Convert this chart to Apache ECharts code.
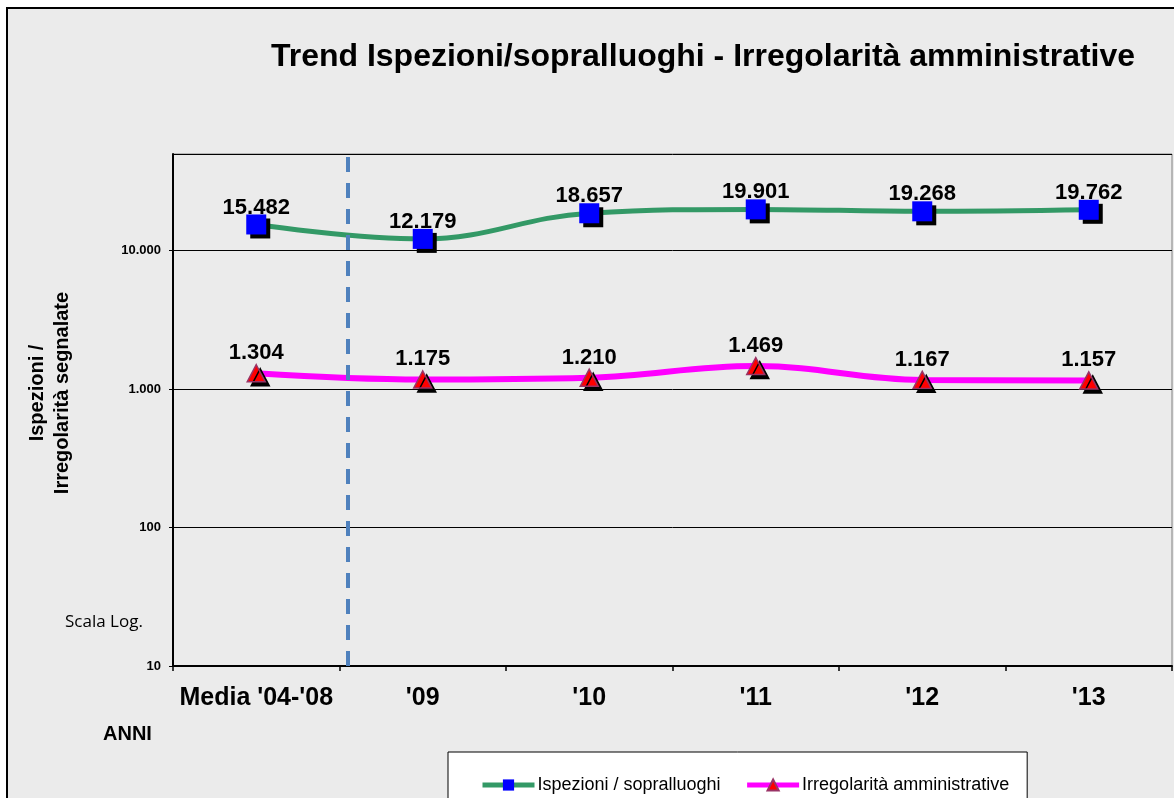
<!DOCTYPE html>
<html>
<head>
<meta charset="utf-8">
<script src="https://cdn.jsdelivr.net/npm/echarts@6/dist/echarts.min.js"></script>
<style>
  html, body { margin: 0; padding: 0; background: #fff; }
  #frame {
    position: absolute; left: 6px; top: 7px; width: 1200px; height: 900px;
    border: 2px solid #000; background: #ebebeb;
  }
  #chart { position: absolute; left: 0; top: 0; width: 1174px; height: 798px; }
</style>
</head>
<body>
<div id="frame"></div>
<div id="chart"></div>
<script>
// categorie (anni)
var anni = ["Media '04-'08", "'09", "'10", "'11", "'12", "'13"];
// valori
var ispezioni = [15482, 12179, 18657, 19901, 19268, 19762];
var irregolarita = [1304, 1175, 1210, 1469, 1167, 1157];
var nomiSerie = ['Ispezioni / sopralluoghi', 'Irregolarità amministrative'];
// linea tratteggiata tra la media e il 2009 (posizione in unità di categoria)
var separatore = [1.05];

var FONT = '"Liberation Sans", Arial, sans-serif';

// separatore migliaia all'italiana
function fmt(v) {
  return String(Math.round(v)).replace(/\B(?=(\d{3})+(?!\d))/g, '.');
}

var myChart = echarts.init(document.getElementById('chart'));

var option = {
  backgroundColor: 'transparent',
  animation: false,
  textStyle: { fontFamily: FONT },
  graphic: [
    {
      type: 'text', x: 703, y: 57,
      style: {
        text: 'Trend Ispezioni/sopralluoghi - Irregolarità amministrative',
        font: 'bold 32px ' + FONT, fill: '#000',
        align: 'center', verticalAlign: 'middle'
      }
    },
    {
      type: 'text', x: 50, y: 393, rotation: Math.PI / 2,
      style: {
        text: 'Ispezioni /\nIrregolarità segnalate',
        font: 'bold 20px ' + FONT, fill: '#000',
        align: 'center', verticalAlign: 'middle', lineHeight: 25
      }
    },
    {
      type: 'text', x: 65, y: 622,
      style: {
        text: 'Scala Log.', font: '17px "Open Sans", sans-serif', fill: '#000',
        verticalAlign: 'middle'
      }
    },
    {
      type: 'text', x: 103, y: 734,
      style: {
        text: 'ANNI', font: 'bold 20px ' + FONT, fill: '#000',
        verticalAlign: 'middle'
      }
    }
  ],
  legend: {
    data: nomiSerie,
    left: 448,
    top: 752,
    backgroundColor: '#fff',
    borderColor: '#000',
    borderWidth: 1,
    borderRadius: 0,
    padding: [24, 18, 30, 32],
    itemWidth: 52,
    itemHeight: 14,
    itemGap: 24,
    lineStyle: { width: 5 },
    textStyle: { fontSize: 18, color: '#000', fontFamily: FONT, padding: [0, 0, 0, -2] }
  },
  grid: {
    left: 173, top: 154, right: 2, bottom: 132,
    show: true, borderColor: '#808080', borderWidth: 1,
    backgroundColor: 'transparent'
  },
  xAxis: [
    {
      type: 'category',
      data: anni,
      boundaryGap: true,
      axisLine: { lineStyle: { color: '#000', width: 2 } },
      axisTick: { show: true, interval: 0, length: 5, lineStyle: { color: '#000', width: 1.5 } },
      axisLabel: {
        interval: 0, fontSize: 25, fontWeight: 'bold', color: '#000', margin: 20, fontFamily: FONT
      }
    },
    {
      type: 'value', min: 0, max: anni.length, show: false
    }
  ],
  yAxis: {
    type: 'log',
    logBase: 10,
    min: 10,
    max: 50000,
    axisLine: { show: true, lineStyle: { color: '#000', width: 2 } },
    axisTick: { show: true, length: 4, lineStyle: { color: '#000' } },
    axisLabel: {
      fontSize: 13, fontWeight: 'bold', color: '#000', margin: 12, fontFamily: FONT,
      showMaxLabel: false,
      formatter: function (v) { return fmt(v); }
    },
    splitLine: { show: true, lineStyle: { color: '#000', width: 1 } }
  },
  series: [
    {
      name: nomiSerie[0],
      type: 'line',
      data: ispezioni,
      smooth: 0.4,
      symbol: 'rect',
      symbolSize: 20,
      lineStyle: { color: '#339966', width: 5 },
      itemStyle: {
        color: '#0000ff', borderColor: '#8080ff', borderWidth: 0,
        shadowColor: '#000', shadowOffsetX: 4, shadowOffsetY: 4, shadowBlur: 0
      },
      label: {
        show: true, position: 'top', distance: -4,
        fontSize: 22, fontWeight: 'bold', color: '#000', fontFamily: FONT,
        formatter: function (p) { return fmt(p.value); }
      },
      z: 3
    },
    {
      name: nomiSerie[1],
      type: 'line',
      data: irregolarita,
      smooth: 0.4,
      symbol: 'triangle',
      symbolSize: [18, 17],
      lineStyle: { color: '#ff00ff', width: 6 },
      itemStyle: {
        color: '#ff0000', borderColor: '#993366', borderWidth: 1.5,
        shadowColor: '#000', shadowOffsetX: 4, shadowOffsetY: 4, shadowBlur: 0
      },
      label: {
        show: true, position: 'top', distance: 0,
        fontSize: 22, fontWeight: 'bold', color: '#000', fontFamily: FONT,
        formatter: function (p) { return fmt(p.value); }
      },
      z: 3
    },
    {
      name: 'separatore',
      type: 'line',
      xAxisIndex: 1,
      data: [],
      silent: true,
      markLine: {
        symbol: 'none',
        silent: true,
        label: { show: false },
        lineStyle: { type: [15, 11], color: '#4f81bd', width: 4 },
        data: separatore.map(function (x) { return { xAxis: x }; })
      },
      z: 2
    }
  ]
};

myChart.setOption(option);
</script>
</body>
</html>
